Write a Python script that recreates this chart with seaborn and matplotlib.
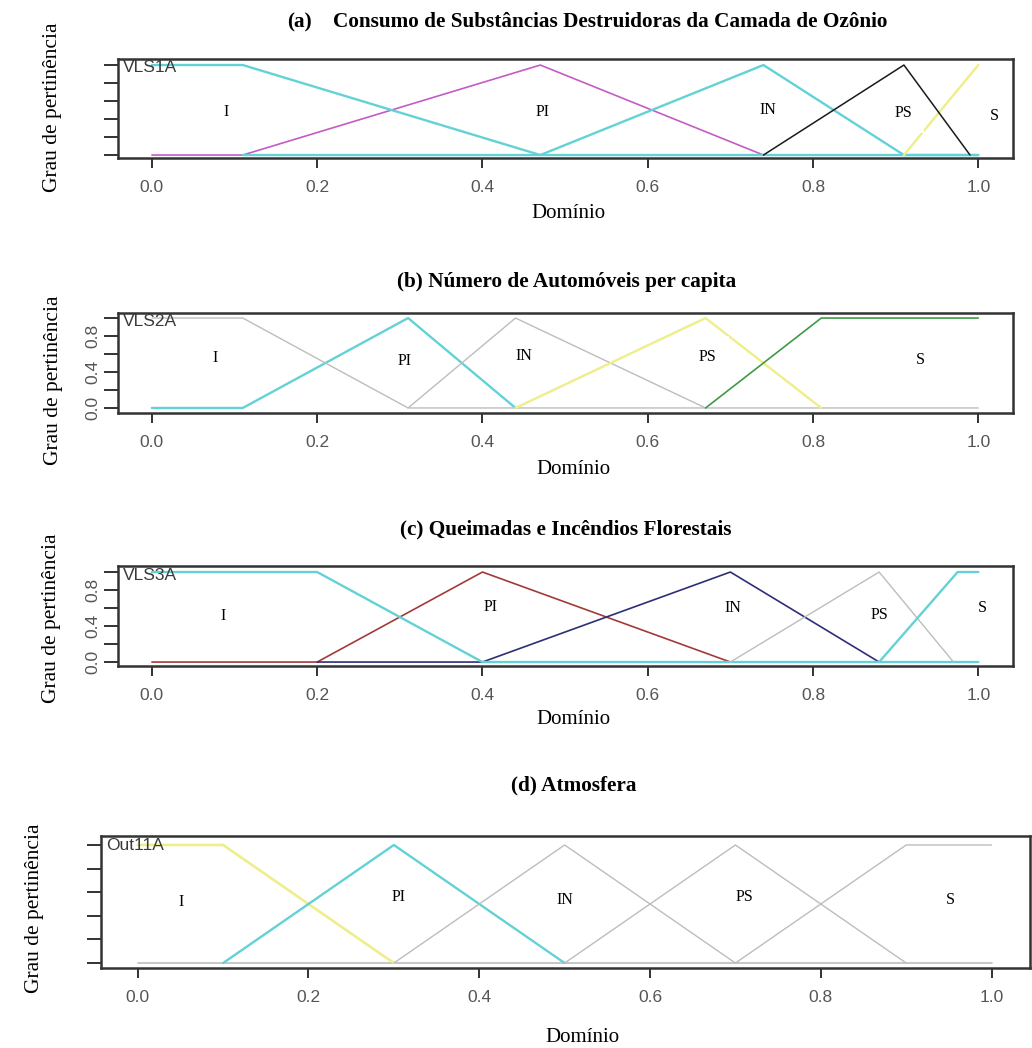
import numpy as np
import pandas as pd
import matplotlib
matplotlib.use("Agg")
import matplotlib.pyplot as plt
import seaborn as sns

sns.set_theme(style="white")
plt.rcParams['font.family'] = ['Liberation Serif', 'DejaVu Serif']
plt.rcParams['text.color'] = 'black'

# ---------------- data ----------------
titles = ["(b) Número de Automóveis per capita",
          "(c) Queimadas e Incêndios Florestais",
          "(d) Atmosfera"]
title_a_tag = "(a)"
title_a_text = "Consumo de Substâncias Destruidoras da Camada de Ozônio"
var_names = ["VLS1A", "VLS2A", "VLS3A", "Out11A"]
set_labels = ["I", "PI", "IN", "PS", "S"]
x_ticks = [0.0, 0.2, 0.4, 0.6, 0.8, 1.0]
x_ticklabels = ["0.0", "0.2", "0.4", "0.6", "0.8", "1.0"]
y_ticks = [0.0, 0.2, 0.4, 0.6, 0.8, 1.0]
y_ticklabels_num = ["0.0", "", "0.4", "", "0.8", ""]

# panel (a) membership functions
a_PI_x = [0.0, 0.11, 0.47, 0.74]; a_PI_y = [0, 0, 1, 0]
a_I_x = [0.0, 0.11, 0.47, 1.0];   a_I_y = [1, 1, 0, 0]
a_IN_x = [0.11, 0.47, 0.74, 0.91, 1.0]; a_IN_y = [0, 0, 1, 0, 0]
a_PS_x = [0.74, 0.91, 0.99];      a_PS_y = [0, 1, 0]
a_S_x = [0.91, 1.0];              a_S_y = [0, 1]
a_lab_x = [0.09, 0.473, 0.746, 0.909, 1.02]
a_lab_y = [0.48, 0.48, 0.50, 0.47, 0.43]

# panel (b)
b_PI_x = [0.0, 0.11, 0.31, 0.44]; b_PI_y = [0, 0, 1, 0]
b_I_x = [0.0, 0.11, 0.31, 1.0];   b_I_y = [1, 1, 0, 0]
b_IN_x = [0.31, 0.44, 0.67];      b_IN_y = [0, 1, 0]
b_PS_x = [0.44, 0.67, 0.81];      b_PS_y = [0, 1, 0]
b_S_x = [0.67, 0.81, 1.0];        b_S_y = [0, 1, 1]
b_lab_x = [0.076, 0.306, 0.45, 0.672, 0.93]
b_lab_y = [0.56, 0.52, 0.58, 0.57, 0.53]

# panel (c)
c_PI_x = [0.0, 0.2, 0.4, 0.7];    c_PI_y = [0, 0, 1, 0]
c_IN_x = [0.2, 0.4, 0.7, 0.88];   c_IN_y = [0, 0, 1, 0]
c_I_x = [0.0, 0.2, 0.4, 1.0];     c_I_y = [1, 1, 0, 0]
c_PS_x = [0.7, 0.88, 0.97];       c_PS_y = [0, 1, 0]
c_S_x = [0.88, 0.975, 1.0];       c_S_y = [0, 1, 1]
c_lab_x = [0.086, 0.41, 0.703, 0.88, 1.005]
c_lab_y = [0.51, 0.61, 0.60, 0.52, 0.60]

# panel (d)
d_base_x = [0.0, 1.0];            d_base_y = [0, 0]
d_I_x = [0.0, 0.1, 0.3];          d_I_y = [1, 1, 0]
d_PI_x = [0.1, 0.3, 0.5];         d_PI_y = [0, 1, 0]
d_IN_x = [0.3, 0.5, 0.7];         d_IN_y = [0, 1, 0]
d_PS_x = [0.5, 0.7, 0.9];         d_PS_y = [0, 1, 0]
d_S_x = [0.7, 0.9, 1.0];          d_S_y = [0, 1, 1]
d_lab_x = [0.051, 0.306, 0.5, 0.711, 0.952]
d_lab_y = [0.52, 0.56, 0.53, 0.56, 0.53]

# ---------------- style ----------------
CYAN = "#63d2d6"
MAGENTA = "#c45cc4"
YELLOW = "#eeee8a"
BLACK = "#1a1a1a"
GRAY = "#bdbdbd"
GREEN = "#3f9a46"
DARKRED = "#a33a3a"
NAVY = "#2e2e78"

W, H = 1032, 1048
fig = plt.figure(figsize=(W / 100, H / 100), dpi=100)


def px_axes(left, top, right, bottom):
    return fig.add_axes([left / W, 1 - bottom / H, (right - left) / W, (bottom - top) / H])


def curve(ax, xs, ys, color, lw=1.2, z=2):
    df = pd.DataFrame({"x": xs, "y": ys})
    sns.lineplot(data=df, x="x", y="y", ax=ax, color=color, lw=lw,
                 sort=False, estimator=None, zorder=z, legend=False)


def style_axes(ax, xlim, ylim, ylabels):
    ax.set_xlim(*xlim)
    ax.set_ylim(*ylim)
    ax.set_xticks(x_ticks)
    ax.set_xticklabels(x_ticklabels, family="Liberation Sans", color="#555555", fontsize=12.5)
    ax.set_yticks(y_ticks)
    if ylabels:
        ax.set_yticklabels(y_ticklabels_num, family="Liberation Sans", color="#555555",
                           fontsize=12.5, rotation=90, va="center")
    else:
        ax.set_yticklabels([])
    ax.tick_params(axis="x", direction="out", length=7, width=1.3, color="#222222", pad=9,
                   bottom=True)
    ax.tick_params(axis="y", direction="out", length=10, width=1.3, color="#222222", pad=3,
                   left=True)
    for s in ax.spines.values():
        s.set_color("#333333")
        s.set_linewidth(1.8)
    ax.set_xlabel("")
    ax.set_ylabel("")


def put_labels(ax, xs, ys, boxed=()):
    for i, (lx, ly, t) in enumerate(zip(xs, ys, set_labels)):
        kw = {}
        if i in boxed:
            kw["bbox"] = dict(facecolor="white", edgecolor="none", pad=9)
        ax.text(lx, ly, t, ha="center", va="center", fontsize=11.5,
                family="Liberation Serif", color="black", zorder=2.5, **kw)


def var_name(ax, name):
    ax.text(0.005, 0.985, name, transform=ax.transAxes, ha="left", va="top",
            family="Liberation Sans", fontsize=12.5, color="#3a3a3a", zorder=5)


# ---------- panel (a)
ax = px_axes(118, 59, 1013, 158)
curve(ax, a_PI_x, a_PI_y, MAGENTA, 1.2)
curve(ax, a_I_x, a_I_y, CYAN, 1.7)
curve(ax, a_IN_x, a_IN_y, CYAN, 1.7)
curve(ax, a_S_x, a_S_y, YELLOW, 1.7)
curve(ax, a_PS_x, a_PS_y, BLACK, 1.1, z=3)
style_axes(ax, (-0.041, 1.042), (-0.033, 1.067), False)
put_labels(ax, a_lab_x, a_lab_y, boxed=(3,))
var_name(ax, var_names[0])

# ---------- panel (b)
ax = px_axes(118, 313, 1013, 413)
curve(ax, b_PI_x, b_PI_y, CYAN, 1.7)
curve(ax, b_I_x, b_I_y, GRAY, 1.0)
curve(ax, b_IN_x, b_IN_y, GRAY, 1.0)
curve(ax, b_PS_x, b_PS_y, YELLOW, 1.7)
curve(ax, b_S_x, b_S_y, GREEN, 1.2)
style_axes(ax, (-0.041, 1.042), (-0.056, 1.056), True)
put_labels(ax, b_lab_x, b_lab_y, boxed=(1, 3))
var_name(ax, var_names[1])

# ---------- panel (c)
ax = px_axes(118, 566, 1013, 666)
curve(ax, c_PI_x, c_PI_y, DARKRED, 1.2)
curve(ax, c_IN_x, c_IN_y, NAVY, 1.2)
curve(ax, c_I_x, c_I_y, CYAN, 1.7)
curve(ax, c_PS_x, c_PS_y, GRAY, 1.0)
curve(ax, c_S_x, c_S_y, CYAN, 1.7)
style_axes(ax, (-0.041, 1.042), (-0.044, 1.067), True)
put_labels(ax, c_lab_x, c_lab_y)
var_name(ax, var_names[2])

# ---------- panel (d)
ax = px_axes(101, 836, 1030, 968)
curve(ax, d_base_x, d_base_y, GRAY, 1.2)
curve(ax, d_I_x, d_I_y, YELLOW, 1.9)
curve(ax, d_PI_x, d_PI_y, CYAN, 1.7)
curve(ax, d_IN_x, d_IN_y, GRAY, 1.0)
curve(ax, d_PS_x, d_PS_y, GRAY, 1.0)
curve(ax, d_S_x, d_S_y, GRAY, 1.0)
style_axes(ax, (-0.043, 1.045), (-0.042, 1.076), False)
put_labels(ax, d_lab_x, d_lab_y)
var_name(ax, var_names[3])

# ---------- titles & axis labels
def ftext(x, y, s, **kw):
    fig.text(x / W, 1 - y / H, s, color="black", **kw)

TS = 15.3
ftext(287, 22, title_a_tag, ha="left", va="center", fontsize=TS, fontweight="bold")
ftext(333, 22, title_a_text, ha="left", va="center", fontsize=TS, fontweight="bold")
ftext(567, 282, titles[0], ha="center", va="center", fontsize=TS, fontweight="bold")
ftext(566, 529, titles[1], ha="center", va="center", fontsize=TS, fontweight="bold")
ftext(574, 785, titles[2], ha="center", va="center", fontsize=TS, fontweight="bold")

for (x, y) in [(568, 213), (573, 469), (573, 719), (582, 1038)]:
    ftext(x, y, "Domínio", ha="center", va="center", fontsize=15)
for (x, y) in [(53, 107), (54, 380), (52, 618), (35, 908)]:
    ftext(x, y, "Grau de pertinência", ha="center", va="center", fontsize=15.5, rotation=90)

fig.savefig("out.png", dpi=100)
